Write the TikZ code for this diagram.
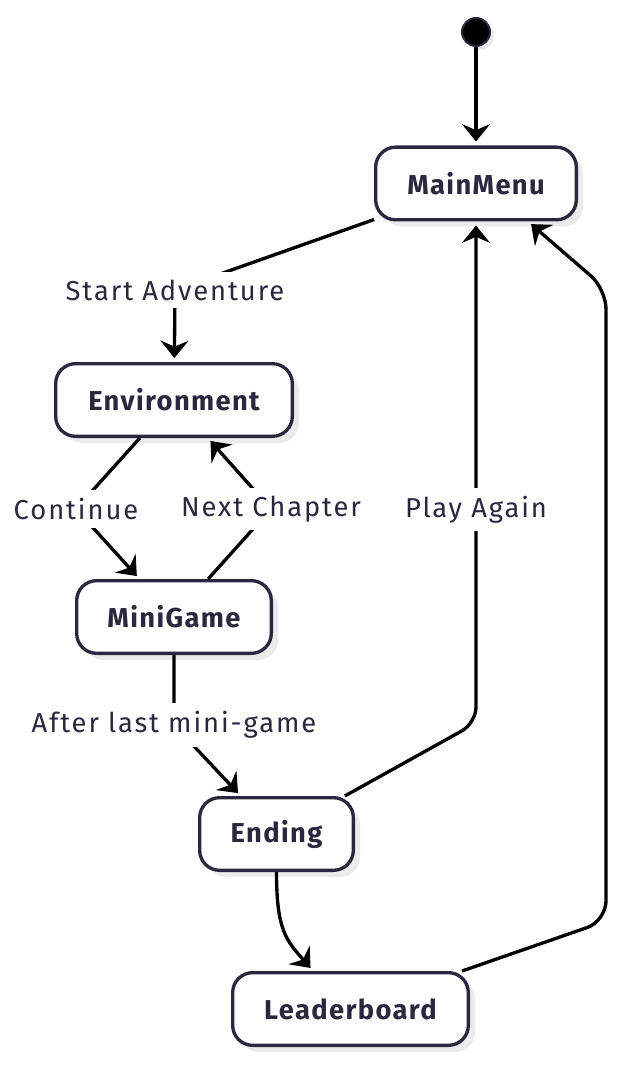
\documentclass[tikz,border=0pt]{standalone}
\usepackage{fontspec}
\setmainfont{Fira Sans}
\newfontfamily\statefont[LetterSpace=5]{Fira Sans}
\newfontfamily\lblfont[LetterSpace=7]{Fira Sans}
\usetikzlibrary{arrows.meta}
\usetikzlibrary{shadows}
\definecolor{ink}{RGB}{42,40,62}

\tikzset{
  state/.style={draw=ink, line width=2.5pt, rounded corners=15pt, fill=white, text=ink,
    minimum height=54.5pt, font=\fontsize{20.5}{23}\selectfont\statefont\bfseries,
    drop shadow={shadow xshift=5pt, shadow yshift=-5pt, fill=black!8, opacity=1}},
  trans/.style={line width=2.5pt, -{Stealth[length=13pt,width=21pt,inset=4.5pt]}, shorten >=3pt},
  lbl/.style={fill=white, text=ink, inner sep=6pt, rounded corners=0pt,
    font=\fontsize{20.5}{23}\selectfont\lblfont}
}

\begin{document}
\begin{tikzpicture}[x=0.75pt,y=0.75pt,yscale=-1,xscale=1]
\useasboundingbox (0,0) rectangle (622,1066);

%Shape: Circle [id:start]
\node (start) [circle, fill=black, draw=ink, line width=1.5pt, minimum size=21pt, inner sep=0pt,
  drop shadow={shadow xshift=3pt, shadow yshift=-3pt, fill=black!8, opacity=1}] at (476,32) {};

%Shape: Rounded Rect [id:mainmenu]
\node (mainmenu) [state, minimum width=150.5pt] at (476,183.5) {MainMenu};
%Shape: Rounded Rect [id:environment]
\node (environment) [state, minimum width=177.5pt] at (174,400) {Environment};
%Shape: Rounded Rect [id:minigame]
\node (minigame) [state, minimum width=146pt] at (174,617) {MiniGame};
%Shape: Rounded Rect [id:ending]
\node (ending) [state, minimum width=115.25pt] at (276.5,834) {Ending};
%Shape: Rounded Rect [id:leaderboard]
\node (leaderboard) [state, minimum width=176.75pt] at (350.5,1009) {Leaderboard};

%Straight Lines [id:start-mainmenu]
\draw [trans] (start) -- (mainmenu);
%Straight Lines [id:mainmenu-environment]
\draw [trans] (mainmenu) -- (175,290) node [lbl] {Start Adventure} -- (environment);
%Straight Lines [id:environment-minigame]
\draw [trans] (environment) -- (76,509) node [lbl] {Continue} -- (minigame);
%Straight Lines [id:minigame-environment]
\draw [trans] (minigame) -- (271,509) node [lbl] {Next Chapter} -- (environment);
%Straight Lines [id:minigame-ending]
\draw [trans] (minigame) -- (174,725) node [lbl] {After last mini-game} -- (ending);
%Straight Lines [id:ending-mainmenu]
\draw [trans, rounded corners=12pt] (ending) -- (476,723) -- node [lbl, pos=0.425] {Play Again} (mainmenu.south);
%Curve Lines [id:ending-leaderboard]
\draw [trans] (ending.south) .. controls (276.5,930) and (286,940) .. ([xshift=-28pt]leaderboard.north);
%Straight Lines [id:leaderboard-mainmenu]
\draw [trans, rounded corners=15pt] ([xshift=-6pt]leaderboard.north east) -- (606,921) -- (606,289) -- ([xshift=39pt]mainmenu.south);

\end{tikzpicture}
\end{document}
